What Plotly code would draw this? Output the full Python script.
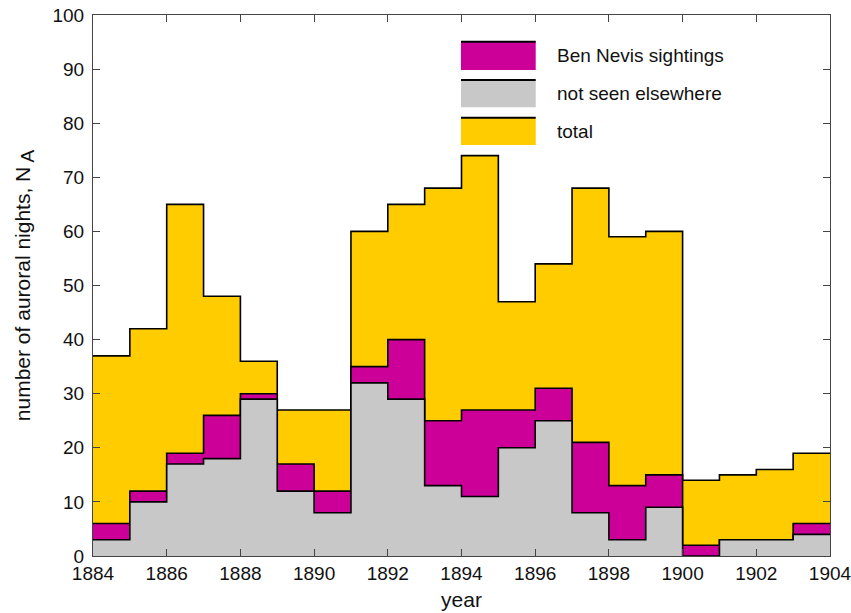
import plotly.graph_objects as go

# ---- data ----
years = list(range(1884, 1904))
total = [37, 42, 65, 48, 36, 27, 27, 60, 65, 68, 74, 47, 54, 68, 59, 60, 14, 15, 16, 19]
ben_nevis = [6, 12, 19, 26, 30, 17, 12, 35, 40, 25, 27, 27, 31, 21, 13, 15, 2, 3, 3, 6]
not_seen = [3, 10, 17, 18, 29, 12, 8, 32, 29, 13, 11, 20, 25, 8, 3, 9, 0, 3, 3, 4]

legend_labels = ["Ben Nevis sightings", "not seen elsewhere", "total"]
colors = {"total": "#FFCC00", "ben": "#CC0099", "not": "#C8C8C8"}

FONT = "Liberation Sans, Arial, Helvetica, sans-serif"

edges = years + [years[-1] + 1]

def step(vals):
    return vals + [vals[-1]]

fig = go.Figure()
for vals, col, name in [(total, colors["total"], "total"),
                        (ben_nevis, colors["ben"], "Ben Nevis sightings"),
                        (not_seen, colors["not"], "not seen elsewhere")]:
    fig.add_trace(go.Scatter(
        x=edges, y=step(vals), mode="lines", line=dict(shape="hv", color="black", width=1.6),
        fill="tozeroy", fillcolor=col, name=name, showlegend=False, hoverinfo="skip"))

# manual legend (paper coords)
leg_cols = [colors["ben"], colors["not"], colors["total"]]
box_x = (0.4993, 0.6007)
box_y = [(0.8983, 0.9506), (0.8293, 0.8797), (0.7596, 0.8101)]
shapes = []
annotations = []
for (y0, y1), col, lab in zip(box_y, leg_cols, legend_labels):
    shapes.append(dict(type="rect", xref="paper", yref="paper", x0=box_x[0], x1=box_x[1],
                       y0=y0, y1=y1, fillcolor=col, line=dict(width=0), layer="above"))
    shapes.append(dict(type="line", xref="paper", yref="paper", x0=box_x[0], x1=box_x[1],
                       y0=y1, y1=y1, line=dict(color="black", width=2), layer="above"))
    annotations.append(dict(xref="paper", yref="paper", x=0.6269, y=(y0 + y1) / 2,
                            text=lab, showarrow=False, xanchor="left", yanchor="middle",
                            font=dict(family=FONT, size=19, color="#111")))

axis_common = dict(showline=True, linecolor="#444", linewidth=1.2, mirror="ticks",
                   ticks="inside", ticklen=7, tickcolor="#444", showgrid=False, zeroline=False,
                   automargin=False, ticklabeloverflow="allow",
                   tickfont=dict(family=FONT, size=19, color="#111"))

fig.update_layout(
    width=851, height=613,
    margin=dict(l=93, r=21, t=15, b=57),
    paper_bgcolor="white", plot_bgcolor="white",
    xaxis=dict(range=[1884, 1904], tickmode="linear", tick0=1884, dtick=2,
               title=dict(text="year", font=dict(family=FONT, size=21, color="#111"), standoff=9),
               **axis_common),
    yaxis=dict(range=[0, 100], tickmode="linear", tick0=0, dtick=10,
               ticklabelstandoff=4,
               title=dict(text='number of auroral nights, N<sub><span style="font-size:19px"> A</span></sub>',
                          font=dict(family=FONT, size=21, color="#111"), standoff=16),
               **axis_common),
    shapes=shapes, annotations=annotations,
)

fig.write_html("out.html", config={"displayModeBar": False},
               post_script="document.body.style.margin='0px';document.body.style.overflow='hidden';")
